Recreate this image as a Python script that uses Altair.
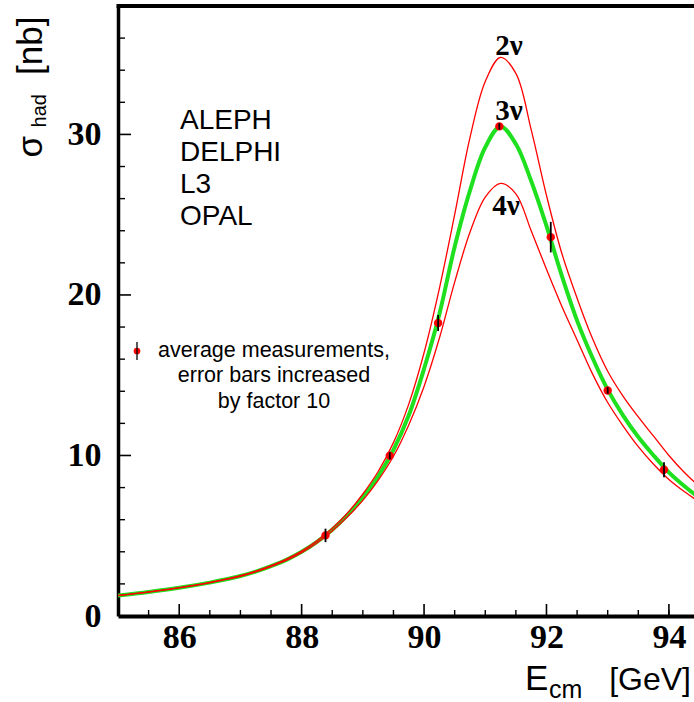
import altair as alt
import pandas as pd

# ---------------- data ----------------
E_grid = [85.0, 85.5, 86.0, 86.5, 86.75, 87.0, 87.25, 87.5, 87.75, 88.0, 88.25, 88.5,
          88.75, 89.0, 89.25, 89.5, 89.75, 90.0, 90.25, 90.5, 90.75, 91.0, 91.25,
          91.5, 91.75, 92.0, 92.25, 92.5, 92.75, 93.0, 93.25, 93.5, 93.75, 94.0,
          94.25, 94.5]
sigma_2nu = [1.28, 1.5, 1.77, 2.09, 2.29, 2.51, 2.8, 3.14, 3.54, 4.04, 4.68, 5.46,
             6.42, 7.6, 9.0, 10.8, 13.2, 16.4, 20.4, 25.0, 29.8, 33.3, 34.8,
             33.8, 30.3, 26.2, 22.6, 19.8, 17.3, 15.25, 13.7, 12.4, 11.2, 10.0,
             8.95, 8.05]
sigma_3nu = [1.28, 1.5, 1.76, 2.08, 2.27, 2.49, 2.77, 3.11, 3.5, 4.0, 4.62, 5.38,
             6.3, 7.4, 8.7, 10.35, 12.5, 15.4, 18.8, 23.0, 26.5, 29.2, 30.5,
             29.4, 27.1, 24.3, 21.2, 18.4, 16.1, 14.1, 12.5, 11.15, 10.0, 8.95,
             8.1, 7.35]
sigma_4nu = [1.27, 1.49, 1.75, 2.07, 2.26, 2.47, 2.75, 3.08, 3.46, 3.95, 4.55, 5.3,
             6.18, 7.2, 8.45, 9.95, 11.9, 14.3, 17.3, 20.8, 23.9, 26.1, 26.95,
             26.3, 24.0, 21.6, 19.3, 17.2, 15.1, 13.3, 11.85, 10.55, 9.45, 8.5,
             7.75, 7.1]

pt_E = [88.39, 89.44, 90.23, 91.23, 92.07, 93.0, 93.92]
pt_sigma = [5.02, 9.98, 18.25, 30.5, 23.6, 14.05, 9.11]
pt_err = [0.42, 0.22, 0.5, 0.2, 0.95, 0.2, 0.47]

x_major = [86, 88, 90, 92, 94]
x_minor = [85.5, 86.5, 87, 87.5, 88.5, 89, 89.5, 90.5, 91, 91.5, 92.5, 93, 93.5, 94]
y_major = [0, 10, 20, 30]
y_minor = [2, 4, 6, 8, 12, 14, 16, 18, 22, 24, 26, 28, 32, 34, 36]

experiments = ["ALEPH", "DELPHI", "L3", "OPAL"]
legend_lines = ["average measurements,", "error bars increased", "by factor 10"]
nu_labels = ["2\u03bd", "3\u03bd", "4\u03bd"]

# ---------------- layout ----------------
W, H = 576, 610
X_DOM = [85, 94.41]
Y_DOM = [0, 38]
SERIF = "Liberation Serif"
SANS = "Liberation Sans"

curves = pd.DataFrame({"E": E_grid, "s2": sigma_2nu, "s3": sigma_3nu, "s4": sigma_4nu})
pts = pd.DataFrame({"E": pt_E, "s": pt_sigma,
                    "lo": [s - e for s, e in zip(pt_sigma, pt_err)],
                    "hi": [s + e for s, e in zip(pt_sigma, pt_err)]})

xs = alt.Scale(domain=X_DOM, nice=False, zero=False)
ys = alt.Scale(domain=Y_DOM, nice=False, zero=False)

x_axis = alt.Axis(values=x_major, format="d", ticks=False, grid=False, domainWidth=4,
                  domainColor="black", labelFont=SERIF, labelFontWeight="bold", labelFontSize=34,
                  labelColor="black", labelPadding=4, labelFlush=False, labelOverlap=False, title=None)
y_axis = alt.Axis(values=y_major, format="d", ticks=False, grid=False, domainWidth=3.5,
                  domainColor="black", labelFont=SERIF, labelFontWeight="bold", labelFontSize=34,
                  labelColor="black", labelPadding=17, labelFlush=False, labelOverlap=False, title=None)

base = alt.Chart(curves)
INTERP = "catmull-rom"

green = base.mark_line(color="#1fe01f", strokeWidth=4, interpolate=INTERP, clip=True).encode(
    x=alt.X("E:Q", scale=xs, axis=x_axis), y=alt.Y("s3:Q", scale=ys, axis=y_axis))
red2 = base.mark_line(color="#ff0000", strokeWidth=1.3, interpolate=INTERP, clip=True).encode(
    x=alt.X("E:Q", scale=xs), y=alt.Y("s2:Q", scale=ys))
red4 = base.mark_line(color="#ff0000", strokeWidth=1.3, interpolate=INTERP, clip=True).encode(
    x=alt.X("E:Q", scale=xs), y=alt.Y("s4:Q", scale=ys))

points = alt.Chart(pts).mark_point(filled=True, color="#ff0000", size=70, opacity=1).encode(
    x=alt.X("E:Q", scale=xs), y=alt.Y("s:Q", scale=ys))
errs = alt.Chart(pts).mark_rule(color="black", strokeWidth=1.8).encode(
    x=alt.X("E:Q", scale=xs), y=alt.Y("lo:Q", scale=ys), y2="hi:Q")

# inward ticks
xmaj = alt.Chart(pd.DataFrame({"v": x_major})).mark_rule(color="black", strokeWidth=1.6).encode(
    x=alt.X("v:Q", scale=xs), y=alt.value(H), y2=alt.value(H - 12))
xmin = alt.Chart(pd.DataFrame({"v": x_minor})).mark_rule(color="black", strokeWidth=1.4).encode(
    x=alt.X("v:Q", scale=xs), y=alt.value(H), y2=alt.value(H - 6))
ymaj = alt.Chart(pd.DataFrame({"v": y_major[1:]})).mark_rule(color="black", strokeWidth=1.6).encode(
    y=alt.Y("v:Q", scale=ys), x=alt.value(0), x2=alt.value(13))
ymin = alt.Chart(pd.DataFrame({"v": y_minor})).mark_rule(color="black", strokeWidth=1.4).encode(
    y=alt.Y("v:Q", scale=ys), x=alt.value(0), x2=alt.value(7))

top_border = alt.Chart(pd.DataFrame({"a": [0]})).mark_rule(color="black", strokeWidth=4).encode(
    x=alt.value(-1.5), x2=alt.value(W), y=alt.value(0))

layers = [green, red2, red4, points, errs, xmaj, xmin, ymaj, ymin, top_border]

one = pd.DataFrame({"a": [0]})


def txt(text, x, y, size, font=SANS, align="left", weight="normal", angle=0):
    kw = dict(font=font, fontSize=size, align=align, baseline="alphabetic",
              fontWeight=weight, color="black")
    if angle:
        kw["angle"] = angle
    return alt.Chart(one).mark_text(**kw).encode(
        x=alt.value(x), y=alt.value(y), text=alt.value(text))


# experiment names
for i, name in enumerate(experiments):
    layers.append(txt(name, 62, 123.3 + i * 31.9, 28))

# legend sample and text
layers.append(alt.Chart(one).mark_point(filled=True, color="#ff0000", size=45, opacity=1).encode(
    x=alt.value(19), y=alt.value(345)))
layers.append(alt.Chart(one).mark_rule(color="black", strokeWidth=1.3).encode(
    x=alt.value(19), y=alt.value(336), y2=alt.value(354)))
for i, line in enumerate(legend_lines):
    layers.append(txt(line, 156, 351.3 + i * 25.1, 21.5, align="center"))

# nu labels
for lab, (lx, ly) in zip(nu_labels, [(391, 49), (391, 114), (388, 209)]):
    layers.append(txt(lab, lx, ly, 29, font=SERIF, align="center", weight="bold"))

# y title sigma_had [nb]
layers.append(txt("\u03c3", -76, 140.7, 35, align="center", angle=270))
layers.append(txt("had", -72.5, 104.8, 20, align="center", angle=270))
layers.append(txt("[nb]", -76, 39.8, 35, align="center", angle=270))

# x title E_cm [GeV]
layers.append(txt("E", 407, 684, 35))
layers.append(txt("cm", 431, 692, 25))
layers.append(txt("[GeV]", 573, 684, 32, align="right"))

chart = alt.layer(*layers).properties(
    width=W, height=H,
    autosize=alt.AutoSizeParams(type="none"),
    padding={"left": 118, "top": 6, "right": 0, "bottom": 86},
    background="white",
).configure_view(stroke=None)

chart.save("out.html", embed_options={"renderer": "svg", "actions": False})
